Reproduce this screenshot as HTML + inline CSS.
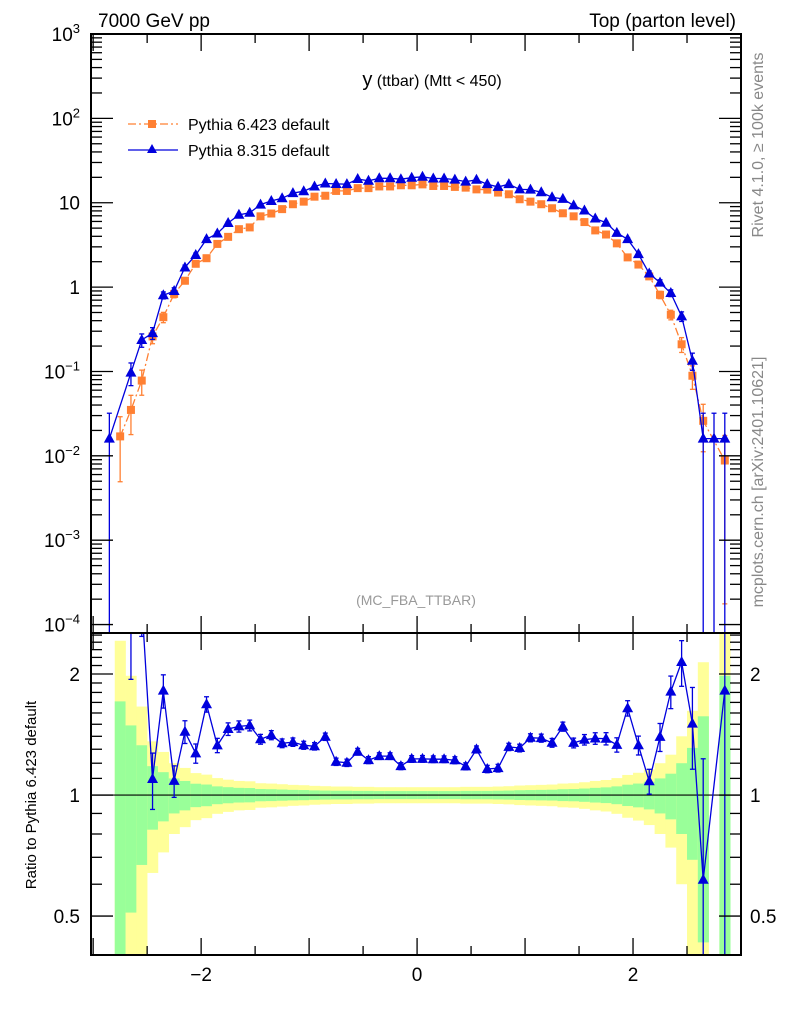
<!DOCTYPE html>
<html><head><meta charset="utf-8">
<style>
html,body{margin:0;padding:0;background:#fff;overflow:hidden;width:786px;height:1024px;}
svg{display:block;}
svg text{font-family:"Liberation Sans",sans-serif;}
</style></head>
<body>
<svg id="chart" width="786" height="1024" viewBox="0 0 786 1024" xmlns="http://www.w3.org/2000/svg">
<text x="98" y="27" font-size="19">7000 GeV pp</text>
<text x="736" y="27" font-size="19" text-anchor="end">Top (parton level)</text>
<text x="432" y="86" font-size="16" text-anchor="middle"><tspan font-size="20">y</tspan> (ttbar) (Mtt &lt; 450)</text>
<text x="416" y="605" font-size="14" fill="#999" text-anchor="middle">(MC_FBA_TTBAR)</text>
<text transform="translate(763,145) rotate(-90)" font-size="16" fill="#888" text-anchor="middle">Rivet 4.1.0, ≥ 100k events</text>
<text transform="translate(763,482) rotate(-90)" font-size="16" fill="#888" text-anchor="middle">mcplots.cern.ch [arXiv:2401.10621]</text>
<text transform="translate(36,795) rotate(-90)" font-size="15" text-anchor="middle">Ratio to Pythia 6.423 default</text>
<g>
 <line x1="128" y1="124" x2="178" y2="124" stroke="#ff8033" stroke-width="1.3" stroke-dasharray="8,3,2,3"/>
 <rect x="148" y="120" width="8" height="8" fill="#ff8033"/>
 <text x="188" y="130" font-size="16">Pythia 6.423 default</text>
 <line x1="128" y1="150" x2="178" y2="150" stroke="#0000dd" stroke-width="1.3"/>
 <path d="M152,144 L157,153 L147,153 Z" fill="#0000dd"/>
 <text x="188" y="156" font-size="16">Pythia 8.315 default</text>
</g>
<g id="plot"></g>
</svg>
<script>
const centers=[-2.85,-2.75,-2.65,-2.55,-2.45,-2.35,-2.25,-2.15,-2.05,-1.95,-1.85,-1.75,-1.65,-1.55,-1.45,-1.35,-1.25,-1.15,-1.05,-0.95,-0.85,-0.75,-0.65,-0.55,-0.45,-0.35,-0.25,-0.15,-0.05,0.05,0.15,0.25,0.35,0.45,0.55,0.65,0.75,0.85,0.95,1.05,1.15,1.25,1.35,1.45,1.55,1.65,1.75,1.85,1.95,2.05,2.15,2.25,2.35,2.45,2.55,2.65,2.75,2.85];
const pythia6=[null,0.017,0.035,0.078,0.26,0.44,0.83,1.19,1.89,2.2,3.25,3.94,4.86,5.1,6.9,7.45,8.4,9.6,10.3,11.8,12.1,13.8,13.8,14.9,14.9,15.6,15.6,16.1,16.1,16.5,15.8,15.8,15.4,15.1,14.4,14.3,13.2,12.6,11.0,10.3,9.6,8.6,7.5,6.9,5.9,4.7,4.2,3.3,2.25,1.85,1.34,0.81,0.47,0.21,0.089,0.026,null,0.0088];
const pythia6Err=[null,0.71,0.49,0.33,0.18,0.14,0.10,0.084,0.067,0.062,0.051,0.046,0.042,0.041,0.035,0.034,0.032,0.030,0.029,0.027,0.026,0.025,0.025,0.024,0.024,0.023,0.023,0.023,0.023,0.023,0.023,0.023,0.023,0.024,0.024,0.024,0.025,0.026,0.028,0.029,0.030,0.031,0.034,0.035,0.038,0.042,0.045,0.051,0.061,0.068,0.079,0.10,0.13,0.20,0.31,0.57,null,0.98];
const pythia8=[0.016,null,0.097,0.236,0.285,0.80,0.90,1.71,2.40,3.7,4.32,5.75,7.2,7.6,9.5,10.5,11.3,13.0,13.7,15.6,16.9,16.7,16.6,19.1,18.2,19.5,19.5,19.0,19.8,20.3,19.4,19.4,18.8,17.8,18.7,16.6,15.4,16.6,14.4,14.3,13.3,11.6,11.1,9.3,8.1,6.5,5.8,4.4,3.7,2.46,1.45,1.13,0.85,0.45,0.134,0.016,0.016,0.016];
const pythia8Err=[1.0,null,0.30,0.18,0.16,0.095,0.09,0.065,0.055,0.044,0.041,0.036,0.032,0.031,0.028,0.026,0.025,0.024,0.023,0.021,0.021,0.021,0.021,0.019,0.02,0.019,0.019,0.02,0.019,0.019,0.019,0.019,0.02,0.02,0.02,0.021,0.022,0.021,0.022,0.023,0.023,0.025,0.026,0.028,0.03,0.033,0.035,0.041,0.044,0.054,0.071,0.08,0.093,0.13,0.23,1.0,1.0,1.0];
const xTicks=[-2,0,2];
const mainYTicks=[-4,-3,-2,-1,0,1,2,3];
const ratioTicks=[0.5,1,2];

const L=91,R=741,T=34,MB=633,RB=955,BW=0.1;
const X0=-3.02,X1=3.0;
const sx=v=>L+(v-X0)/(X1-X0)*(R-L);
const LY0=-4.1,LY1=3;
const sy=v=>MB-(Math.log10(v)-LY0)/(LY1-LY0)*(MB-T);
const RL0=Math.log10(0.40),RL1=Math.log10(2.53);
const sr=v=>RB-(Math.log10(v)-RL0)/(RL1-RL0)*(RB-MB);
const NS="http://www.w3.org/2000/svg";
const g=document.getElementById('plot');
function mk(tag,attrs,parent){const e=document.createElementNS(NS,tag);for(const k in attrs)e.setAttribute(k,attrs[k]);(parent||g).appendChild(e);return e;}
const defs=mk('defs',{});
const c1=mk('clipPath',{id:'cm'},defs);mk('rect',{x:L,y:T,width:R-L,height:MB-T},c1);
const c2=mk('clipPath',{id:'cr'},defs);mk('rect',{x:L,y:MB,width:R-L,height:RB-MB},c2);
const gm=mk('g',{'clip-path':'url(#cm)'});


const gr=mk('g',{'clip-path':'url(#cr)'});



centers.forEach((c,i)=>{
  const e=pythia6Err[i]; if(e==null) return;
  const x=sx(c-BW/2),w=sx(c+BW/2)-x;
  const yhi=Math.min(1+2*e,2.6),ylo=Math.max(1-2*e,0.39);
  const yb=mk('rect',{x:x,y:sr(yhi),width:w+0.3,height:sr(ylo)-sr(yhi),fill:'#ffff99'},gr);
  
  
  const ghi=Math.min(1+e,2.6),glo=Math.max(1-e,0.39);
  const gb=mk('rect',{x:x,y:sr(ghi),width:w+0.3,height:sr(glo)-sr(ghi),fill:'#99ff99'},gr);
  
  
});
mk('line',{x1:L,x2:R,y1:sr(1),y2:sr(1),stroke:'#000','stroke-width':1.2},gr);

function lineSeries(vals,par,sc,color,dash,name){
  let d='';
  centers.forEach((c,i)=>{const v=vals[i];if(v==null||v<=0){return;}d+=(d?'L':'M')+sx(c).toFixed(1)+','+sc(v).toFixed(1);});
  const p=mk('path',{d:d,fill:'none',stroke:color,'stroke-width':1.3},par);
  if(dash)p.setAttribute('stroke-dasharray',dash);
  
  
}
function errBar(par,x,y1,y2,color){
  mk('line',{x1:x,x2:x,y1:y1,y2:y2,stroke:color,'stroke-width':1.3},par);
  mk('line',{x1:x-2.5,x2:x+2.5,y1:y1,y2:y1,stroke:color,'stroke-width':1.3},par);
  mk('line',{x1:x-2.5,x2:x+2.5,y1:y2,y2:y2,stroke:color,'stroke-width':1.3},par);
}
lineSeries(pythia6,gm,sy,'#ff8033','8,3,2,3','line-pythia6');
centers.forEach((c,i)=>{
  const v=pythia6[i];if(v==null)return;const e=pythia6Err[i];
  const x=sx(c);const lo=v*(1-e);
  errBar(gm,x,sy(v*(1+e)),lo>0?Math.min(sy(lo),MB+2):MB+2,'#ff8033');
  const m=mk('rect',{x:x-4,y:sy(v)-4,width:8,height:8,fill:'#ff8033'},gm);
  
  
});
lineSeries(pythia8,gm,sy,'#0000dd',null,'line-pythia8');
centers.forEach((c,i)=>{
  const v=pythia8[i];if(v==null)return;const e=pythia8Err[i];
  const x=sx(c);const lo=v*(1-e);
  errBar(gm,x,sy(v*(1+e)),lo>1e-6?Math.min(sy(lo),MB+2):MB+2,'#0000dd');
  const y=sy(v);
  const m=mk('path',{d:`M${x},${y-6} L${x+5.5},${y+4} L${x-5.5},${y+4} Z`,fill:'#0000dd'},gm);
  
  
});
const ratio=centers.map((c,i)=>(pythia6[i]!=null&&pythia8[i]!=null)?pythia8[i]/pythia6[i]:null);
lineSeries(ratio,gr,sr,'#0000dd',null,'line-ratio');
centers.forEach((c,i)=>{
  const v=ratio[i];if(v==null)return;const e=pythia8Err[i];
  const x=sx(c);const lo=v*(1-e);
  errBar(gr,x,Math.max(sr(v*(1+e)),MB-2),lo>1e-3?Math.min(sr(lo),RB+2):RB+2,'#0000dd');
  const y=sr(v);
  const m=mk('path',{d:`M${x},${y-6} L${x+5.5},${y+4} L${x-5.5},${y+4} Z`,fill:'#0000dd'},gr);
  
  
});

const f1=mk('rect',{x:L,y:T,width:R-L,height:MB-T,fill:'none',stroke:'#000','stroke-width':2});

const f2=mk('rect',{x:L,y:MB,width:R-L,height:RB-MB,fill:'none',stroke:'#000','stroke-width':2});

const tk={stroke:'#000','stroke-width':1.3};
for(let k=-6;k<=6;k++){
  const v=k*0.5;if(v<X0||v>X1)continue;const x=sx(v);const maj=(k%2===0);const len=maj?17:9;
  [[T,1],[MB,-1],[MB,1],[RB,-1]].forEach(([y,s])=>mk('line',Object.assign({x1:x,x2:x,y1:y,y2:y+s*len},tk)));
}
xTicks.forEach(v=>{const t=mk('text',{x:sx(v),y:981,'font-size':19,'text-anchor':'middle'});t.textContent=(v<0?'\u2212':'')+Math.abs(v);
});
mainYTicks.forEach(p=>{
  const y=MB-(p-LY0)/(LY1-LY0)*(MB-T);
  mk('line',Object.assign({x1:L,x2:L+22,y1:y,y2:y},tk));mk('line',Object.assign({x1:R,x2:R-22,y1:y,y2:y},tk));
  for(let m=2;m<=9;m++){const yy=sy(m*Math.pow(10,p));if(yy<T)continue;
    mk('line',Object.assign({x1:L,x2:L+11,y1:yy,y2:yy},tk));mk('line',Object.assign({x1:R,x2:R-11,y1:yy,y2:yy},tk));}
  const t=mk('text',{x:80,y:y+7,'font-size':19,'text-anchor':'end'});
  
  if(p===0)t.textContent='1';else if(p===1)t.textContent='10';
  else{t.textContent='10';const s=mk('tspan',{dy:-8,'font-size':13},t);s.textContent=(p<0?'\u2212':'')+Math.abs(p);}
});
for(let k=4;k<=25;k++){const v=k/10;if(v<0.4||v>2.53)continue;const y=sr(v);
  const maj=ratioTicks.some(r=>Math.abs(r-v)<1e-9);const len=maj?22:11;
  mk('line',Object.assign({x1:L,x2:L+len,y1:y,y2:y},tk));mk('line',Object.assign({x1:R,x2:R-len,y1:y,y2:y},tk));}
ratioTicks.forEach(v=>{
  const t=mk('text',{x:80,y:sr(v)+7,'font-size':19,'text-anchor':'end'});t.textContent=String(v);
  
  const t2=mk('text',{x:750,y:sr(v)+7,'font-size':19});t2.textContent=String(v);
  
});
</script>
</body></html>
